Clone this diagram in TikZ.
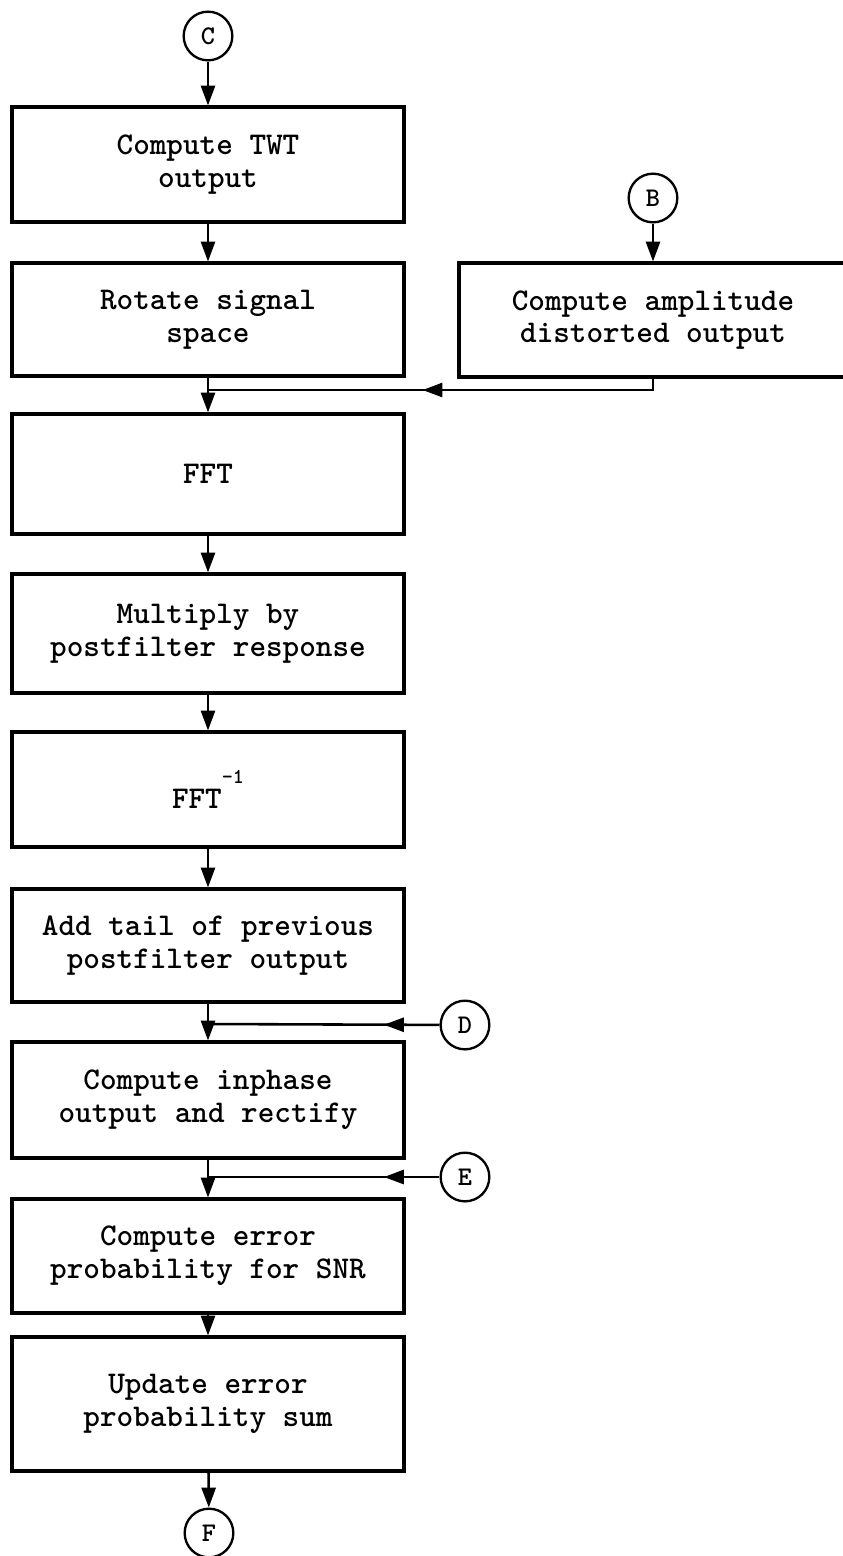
\documentclass[tikz,border=0pt]{standalone}
\usepackage{tikz}
\usetikzlibrary{arrows.meta,decorations.markings}

\begin{document}
\begin{tikzpicture}[
          x=0.03cm, y=-0.03cm,
          every node/.style={font=\ttfamily\bfseries\fontsize{27}{28}\selectfont},
          box/.style={draw,line width=2.6pt,minimum width=11.76cm,
                      align=center,inner sep=0pt},
          conn/.style={draw,circle,line width=2pt,minimum size=1.46cm,inner sep=0pt,
                       font=\ttfamily\bfseries\fontsize{23}{23}\selectfont},
          arr/.style={-{Triangle[length=17pt,width=12pt]},line width=2.2pt},
          midarr/.style={line width=2.2pt,postaction={decorate},
                         decoration={markings,
                           mark=at position #1 with {\arrow{Triangle[length=17pt,width=12pt]}}}},
      ]
        \useasboundingbox (0,0) rectangle (843,1556);
        \clip (0,0) rectangle (843,1556);

        % main column
        \node[conn] (c) at (208,36) {C};
        \node[box,minimum height=3.45cm] (twt) at (208,164.5)
          {Compute TWT\\output};
        \node[box,minimum height=3.39cm] (rot) at (208,319.5)
          {Rotate signal\\space};
        \node[box,minimum height=3.6cm] (fft) at (208,474) {FFT};
        \node[box,minimum height=3.57cm] (mul) at (208,633.5)
          {Multiply by\\postfilter response};
        \node[box,minimum height=3.45cm] (ifft) at (208,789.5)
          {FFT\raisebox{21pt}{\fontsize{18}{18}\selectfont -1}};
        \node[box,minimum height=3.39cm] (tail) at (208,945.5)
          {Add tail of previous\\postfilter output};
        \node[box,minimum height=3.48cm] (inph) at (208,1100)
          {Compute inphase\\output and rectify};
        \node[box,minimum height=3.42cm] (err) at (208,1256)
          {Compute error\\probability for SNR};
        \node[box,minimum height=4.02cm] (upd) at (208,1404)
          {Update error\\probability sum};
        \node[conn] (f) at (209,1533) {F};

        % side branch and entry points
        \node[conn] (b) at (653,198) {B};
        \node[box,minimum width=11.64cm,minimum height=3.42cm] (amp) at (653,320)
          {Compute amplitude\\distorted output};
        \node[conn] (d) at (465,1025) {D};
        \node[conn] (e) at (465,1177) {E};

        \coordinate (jb) at (208,390);
        \coordinate (jd) at (208,1024);
        \coordinate (je) at (208,1177);

        \draw[arr] (c) -- (twt);
        \draw[arr] (twt) -- (rot);
        \draw[arr] (rot) -- (fft);
        \draw[arr] (b) -- (amp);
        \draw[midarr=0.53] (amp.south) |- (jb);
        \draw[arr] (fft) -- (mul);
        \draw[arr] (mul) -- (ifft);
        \draw[arr] (ifft) -- (tail);
        \draw[arr] (tail) -- (inph);
        \draw[midarr=0.24] (d) -- (jd);
        \draw[arr] (inph) -- (err);
        \draw[midarr=0.24] (e) -- (je);
        \draw[arr] (err) -- (upd);
        \draw[arr] (upd) -- (f);
      \end{tikzpicture}
\end{document}
